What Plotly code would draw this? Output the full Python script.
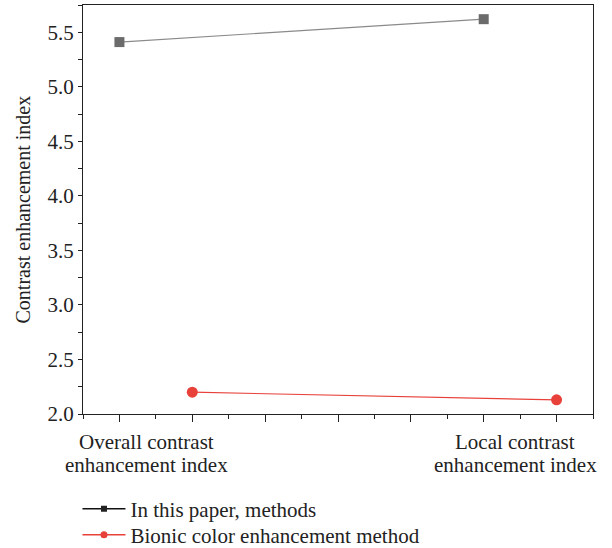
import plotly.graph_objects as go

categories = [["Overall contrast", "enhancement index"], ["Local contrast", "enhancement index"]]
cat_pos = [1.37, 6.43]
paper_x = [1, 6]
paper_y = [5.41, 5.62]
bionic_x = [2, 7]
bionic_y = [2.20, 2.13]
major_x = [1, 2, 3, 4, 5, 6, 7]
y_ticks = [2.0, 2.5, 3.0, 3.5, 4.0, 4.5, 5.0, 5.5]
y_title = "Contrast enhancement index"

FONT = "Liberation Serif"
FS = 21
TXT = "#222222"

fig = go.Figure()
fig.add_trace(go.Scatter(
    x=paper_x, y=paper_y, mode="lines+markers", name="In this paper, methods",
    line=dict(color="#8a8a8a", width=1.2),
    marker=dict(symbol="square", size=10, color="#6b6b6b"),
    showlegend=False,
))
fig.add_trace(go.Scatter(
    x=bionic_x, y=bionic_y, mode="lines+markers", name="Bionic color enhancement method",
    line=dict(color="#e8413a", width=1.2),
    marker=dict(symbol="circle", size=11, color="#e8413a"),
    showlegend=False,
))
# legend entries
fig.add_trace(go.Scatter(
    x=[None], y=[None], mode="lines+markers", name="In this paper, methods",
    line=dict(color="#111", width=1.5), marker=dict(symbol="square", size=6, color="#222"),
    legend="legend",
))
fig.add_trace(go.Scatter(
    x=[None], y=[None], mode="lines+markers", name="Bionic color enhancement method",
    line=dict(color="#e8413a", width=1.5), marker=dict(symbol="circle", size=7, color="#e8413a"),
    legend="legend2",
))

for lines, xp in zip(categories, cat_pos):
    for i, lab in enumerate(lines):
        fig.add_annotation(x=xp, y=0, xref="x", yref="paper", text=lab, showarrow=False,
                           yanchor="middle", yshift=-28 - 23 * i,
                           font=dict(family=FONT, size=FS, color=TXT))

fig.add_annotation(x=-0.1196, y=0.5, xref="paper", yref="paper", text=y_title, showarrow=False,
                   textangle=-90, xanchor="center", yanchor="middle",
                   font=dict(family=FONT, size=FS - 1, color=TXT))

fig.update_xaxes(
    range=[0.5, 7.5], tickvals=major_x, ticktext=[""] * len(major_x),
    ticks="outside", ticklen=7, tickcolor="#222", tickwidth=1.2,
    minor=dict(ticks="outside", ticklen=4, dtick=1, tick0=0.5, tickcolor="#222", tickwidth=1.2),
    showline=True, linecolor="#222", linewidth=1.3, mirror=True,
    showgrid=False, zeroline=False, automargin=False,
)
fig.update_yaxes(
    range=[2.0, 5.75], tickvals=y_ticks, ticktext=[f"{v:.1f}" for v in y_ticks],
    ticks="outside", ticklen=4, tickcolor="#222", tickwidth=1.2,
    minor=dict(ticks="outside", ticklen=4, dtick=0.5, tick0=2.25, tickcolor="#222", tickwidth=1.2),
    showline=True, linecolor="#222", linewidth=1.3, mirror=True,
    showgrid=False, zeroline=False, automargin=False,
    tickfont=dict(family=FONT, size=FS, color=TXT),
)

leg_common = dict(xref="container", yref="container", x=0.1266, xanchor="left", yanchor="middle",
                  orientation="v", font=dict(family=FONT, size=FS, color=TXT),
                  itemwidth=43, bgcolor="rgba(0,0,0,0)")

fig.update_layout(
    width=612, height=548,
    margin=dict(l=83, r=19, t=5, b=134, autoexpand=False),
    plot_bgcolor="white", paper_bgcolor="white",
    font=dict(family=FONT, size=FS, color=TXT),
    showlegend=True,
    legend=dict(y=1 - 509 / 548, **leg_common),
    legend2=dict(y=1 - 535 / 548, **leg_common),
)

fig.write_html("out.html", config={"displayModeBar": False},
               post_script="document.body.style.margin='0';")
